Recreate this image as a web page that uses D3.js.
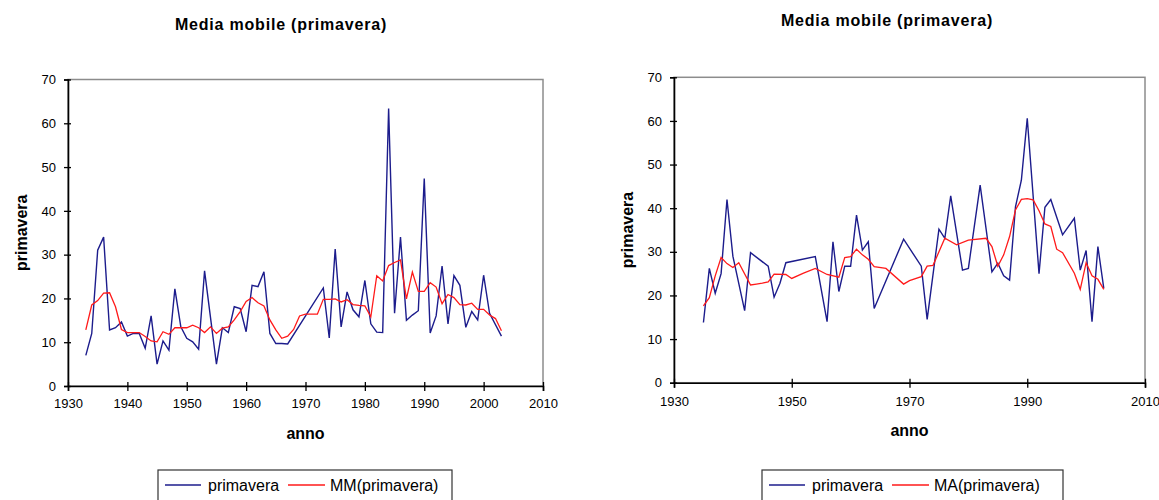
<!DOCTYPE html>
<html>
<head>
<meta charset="utf-8">
<script src="https://cdn.jsdelivr.net/npm/d3@7/dist/d3.min.js"></script>
<style>
  html, body { margin: 0; padding: 0; background: #fff; }
  svg { display: block; }
</style>
</head>
<body>
<svg id="chart" width="1159" height="500"></svg>
<script>
// ---------- DATA ----------
const xTicks = [1930, 1940, 1950, 1960, 1970, 1980, 1990, 2000, 2010];
const xTicksRight = [1930, 1950, 1970, 1990, 2010];
const yTicks = [0, 10, 20, 30, 40, 50, 60, 70];

const chartTitle = "Media mobile (primavera)";
const xAxisTitle = "anno";
const yAxisTitle = "primavera";
const seriesName = "primavera";
const maNameLeft = "MM(primavera)";
const maNameRight = "MA(primavera)";

// Left chart: raw series
const leftYears = [1933,1934,1935,1936,1937,1938,1939,1940,1941,1942,1943,1944,1945,1946,1947,1948,1949,1950,1951,1952,1953,1955,1956,1957,1958,1959,1960,1961,1962,1963,1964,1965,1966,1967,
  1973,1974,1975,1976,1977,1978,1979,1980,1981,1982,1983,1984,1985,1986,1987,1988,1989,1990,1991,1992,1993,1994,1995,1996,1997,1998,1999,2000,2001,2003];
const leftValues = [7,12,31,34,12.8,13.3,14.6,11.4,12,12,8.6,16,5,10.3,8.2,22.2,13.5,10.9,10.1,8.4,26.3,5,13.3,12.2,18.1,17.7,12.4,23,22.7,26.1,12,9.7,9.7,9.6,
  22.4,11,31.3,13.5,21.5,17.4,15.8,24.1,14.2,12.3,12.2,63.4,16.6,34,15,16.2,17.2,47.4,12.1,16,27.4,14.2,25.2,23,13.4,17,15.1,25.3,16.6,11.4];

// Left chart: moving average
const leftMAYears = [1933,1934,1935,1936,1937,1938,1939,1940,1941,1942,1943,1944,1945,1946,1947,1948,1949,1950,1951,1952,1953,1954,1955,1956,1957,1958,1959,1960,1961,1962,1963,1964,1965,1966,1967,1968,1969,1970,1971,1972,1973,1974,1975,1976,1977,1978,1979,1980,1981,1982,1983,1984,1985,1986,1987,1988,1989,1990,1991,1992,1993,1994,1995,1996,1997,1998,1999,2000,2001,2002,2003];
const leftMAValues = [12.8,18.5,19.5,21.2,21.3,18.1,12.9,12.2,12.2,12.2,11.3,10.3,10.1,12.4,11.8,13.3,13.3,13.3,13.9,13.3,12.2,13.5,12,13.2,13.5,15.1,17,19.3,20.2,19,18.3,15.1,12.8,10.9,11.4,12.9,16,16.4,16.4,16.4,19.8,19.8,19.9,19.2,19.7,18.6,18.4,18.3,15.8,25.2,24,27.5,28.2,28.8,19.9,26,21.6,21.6,23.6,22.6,18.8,20.9,20.2,18.6,18.5,18.9,17.5,17.5,16.2,15.4,12.6];

// Right chart: raw series
const rightYears = [1935,1936,1937,1938,1939,1940,1942,1943,1946,1947,1948,1949,1954,1956,1957,1958,1959,1960,1961,1962,1963,1964,1969,1972,1973,1975,1976,1977,1979,1980,1982,1984,1985,1986,1987,1988,1989,1990,1992,1993,1994,1996,1998,1999,2000,2001,2002,2003];
const rightValues = [13.8,26.2,20.5,25,42,29,16.5,29.8,26.7,19.6,22.8,27.5,28.9,14,32.3,20.9,26.7,26.7,38.4,30.4,32.3,17,32.9,26.7,14.5,35.2,33.1,42.8,25.8,26.2,45.3,25.4,27.4,24.5,23.5,40.3,46.4,60.6,25,40.2,42,33.9,37.7,25.8,30.3,14,31.2,21.6];

// Right chart: moving average
const rightMAYears = [1935,1936,1937,1938,1939,1940,1941,1943,1944,1945,1946,1947,1949,1950,1952,1954,1956,1958,1959,1960,1961,1962,1963,1964,1966,1969,1970,1972,1973,1974,1976,1978,1980,1983,1984,1985,1986,1987,1988,1989,1990,1991,1992,1993,1994,1995,1996,1998,1999,2000,2001,2002,2003];
const rightMAValues = [17.6,19.5,24.5,28.7,27.3,26.4,27.5,22.4,22.6,22.8,23.1,24.9,24.8,23.9,25.1,26.2,24.8,24.2,28.7,28.9,30.6,29.3,28.3,26.6,26.2,22.6,23.4,24.3,26.7,26.9,33.1,31.6,32.7,33.1,31.2,26.7,29.3,33.5,39.6,42,42.2,41.9,39.4,36.4,35.8,30.6,29.8,25.1,21.4,27.5,24.5,23.7,21.4];

// ---------- DRAW ----------
const svg = d3.select("#chart");
const FONT = "'Liberation Sans', Arial, sans-serif";

function drawChart(cfg) {
  const g = svg.append("g");
  const x = d3.scaleLinear().domain([1930, 2010]).range([cfg.left, cfg.right]);
  const y = d3.scaleLinear().domain([0, 70]).range([cfg.bottom, cfg.top]);

  // plot area border (gray)
  g.append("rect")
    .attr("x", cfg.left).attr("y", cfg.top)
    .attr("width", cfg.right - cfg.left).attr("height", cfg.bottom - cfg.top)
    .attr("fill", "none").attr("stroke", "#8c8c8c").attr("stroke-width", 1.5);

  // y axis
  const ya = g.append("g").attr("transform", `translate(${cfg.left},0)`)
    .call(d3.axisLeft(y).tickValues(yTicks).tickSize(4).tickPadding(8).tickFormat(d3.format("d")));
  ya.select(".domain").attr("stroke", "#000").attr("stroke-width", 1.6);
  ya.selectAll(".tick line").attr("x2", 3).attr("x1", -4).attr("stroke", "#000").attr("stroke-width", 1.3);
  ya.selectAll(".tick text").attr("font-family", FONT).attr("font-size", 13).attr("fill", "#000");

  // x axis
  const xa = g.append("g").attr("transform", `translate(0,${cfg.bottom})`)
    .call(d3.axisBottom(x).tickValues(cfg.xTicks).tickSize(5).tickPadding(cfg.xPad).tickFormat(d3.format("d")));
  xa.select(".domain").attr("stroke", "#000").attr("stroke-width", 1.6);
  xa.selectAll(".tick line").attr("y1", -4).attr("stroke", "#000").attr("stroke-width", 1.3);
  xa.selectAll(".tick text").attr("font-family", FONT).attr("font-size", 13).attr("fill", "#000");

  const line = d3.line().x(d => x(d[0])).y(d => y(d[1]));

  g.append("path")
    .datum(cfg.years.map((yr, i) => [yr, cfg.values[i]]))
    .attr("d", line).attr("fill", "none").attr("stroke", "#1c1c8c").attr("stroke-width", 1.4)
    .attr("stroke-linejoin", "miter");

  g.append("path")
    .datum(cfg.maYears.map((yr, i) => [yr, cfg.maValues[i]]))
    .attr("d", line).attr("fill", "none").attr("stroke", "#ff1a1a").attr("stroke-width", 1.3);

  // title
  g.append("text").attr("x", cfg.titleX).attr("y", cfg.titleY)
    .attr("text-anchor", "middle").attr("font-family", FONT).attr("font-weight", "bold")
    .attr("font-size", 16).attr("letter-spacing", 0.8).text(chartTitle);

  // axis titles
  g.append("text").attr("x", (cfg.left + cfg.right) / 2).attr("y", cfg.xTitleY)
    .attr("text-anchor", "middle").attr("font-family", FONT).attr("font-weight", "bold")
    .attr("font-size", 16).text(xAxisTitle);
  g.append("text")
    .attr("transform", `translate(${cfg.yTitleX},${(cfg.top + cfg.bottom) / 2}) rotate(-90)`)
    .attr("text-anchor", "middle").attr("font-family", FONT).attr("font-weight", "bold")
    .attr("font-size", 16).text(yAxisTitle);

  // legend
  const lg = g.append("g");
  lg.append("rect").attr("x", cfg.legX).attr("y", 470).attr("width", cfg.legW).attr("height", 40)
    .attr("fill", "#fff").attr("stroke", "#333").attr("stroke-width", 1.2);
  const ly = 485;
  lg.append("line").attr("x1", cfg.legX + 7).attr("x2", cfg.legX + 43).attr("y1", ly).attr("y2", ly)
    .attr("stroke", "#1c1c8c").attr("stroke-width", 1.4);
  lg.append("text").attr("x", cfg.legX + 50).attr("y", ly + 6).attr("font-family", FONT)
    .attr("font-size", 16).text(seriesName);
  lg.append("line").attr("x1", cfg.legX + 130).attr("x2", cfg.legX + 167).attr("y1", ly).attr("y2", ly)
    .attr("stroke", "#ff1a1a").attr("stroke-width", 1.3);
  lg.append("text").attr("x", cfg.legX + 172).attr("y", ly + 6).attr("font-family", FONT)
    .attr("font-size", 16).text(cfg.maName);
}

drawChart({
  left: 68, right: 543, top: 79.5, bottom: 386,
  xTicks: xTicks, xPad: 8,
  years: leftYears, values: leftValues, maYears: leftMAYears, maValues: leftMAValues,
  titleX: 281, titleY: 30, xTitleY: 439, yTitleX: 27,
  legX: 158, legW: 294, maName: maNameLeft
});

drawChart({
  left: 674, right: 1145, top: 77.3, bottom: 382.7,
  xTicks: xTicksRight, xPad: 9,
  years: rightYears, values: rightValues, maYears: rightMAYears, maValues: rightMAValues,
  titleX: 887, titleY: 26, xTitleY: 436, yTitleX: 633,
  legX: 762, legW: 301, maName: maNameRight
});
</script>
</body>
</html>
